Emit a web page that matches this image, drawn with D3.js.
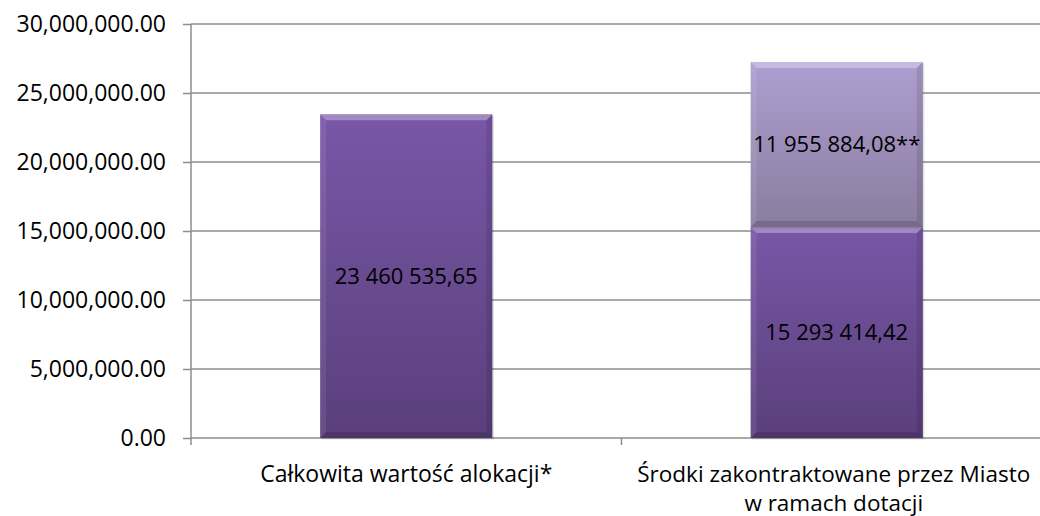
<!DOCTYPE html>
<html>
<head>
<meta charset="utf-8">
<script src="https://cdn.jsdelivr.net/npm/d3@7"></script>
<style>
    body { margin: 0; background: #fff; }
    svg { display: block; }
    svg text { font-family: "Open Sans", sans-serif; }
    .grid line { stroke: #8c8c8c; stroke-width: 1.5; }
    .axis path, .axis line { stroke: #8c8c8c; stroke-width: 1.5; }
    .axis text { fill: #000; }
</style>
</head>
<body>
<div id="chart"></div>
<script>
// data
const categories = ["Całkowita wartość alokacji*", "Środki zakontraktowane przez Miasto\nw ramach dotacji"];
const baseValues = [23460535.65, 15293414.42];
const extraValues = [0, 11955884.08];
const extraSuffix = "**";
const yTicks = [0, 5000000, 10000000, 15000000, 20000000, 25000000, 30000000];

const width = 1040, height = 516;
const margin = { top: 24, right: -12, bottom: 78, left: 191 };

const svg = d3.select("#chart").append("svg")
    .attr("width", width)
    .attr("height", height);

const x = d3.scaleBand()
    .domain(categories)
    .range([margin.left, width - margin.right])
    .paddingInner(0.6)
    .paddingOuter(0.3);

const y = d3.scaleLinear()
    .domain([0, 30000000])
    .range([height - margin.bottom, margin.top]);

const plFormat = v => d3.format(",.2f")(v).replace(/,/g, " ").replace(".", ",");

// gradients
const defs = svg.append("defs");
function grad(id, top, bottom) {
    let g = defs.append("linearGradient").attr("id", id)
        .attr("x1", 0).attr("y1", 0).attr("x2", 0).attr("y2", 1);
    g.append("stop").attr("offset", "0%").attr("stop-color", top);
    g.append("stop").attr("offset", "100%").attr("stop-color", bottom);
}
grad("g-base", "#7857a7", "#5a3f7b");
grad("g-extra", "#ae9ed1", "#8a7d9f");

// gridlines
svg.append("g").attr("class", "grid")
    .selectAll("line")
    .data(yTicks.slice(1))
    .enter().append("line")
    .attr("x1", margin.left)
    .attr("x2", width - margin.right)
    .attr("y1", d => y(d))
    .attr("y2", d => y(d));

// y axis
const yAxis = d3.axisLeft(y)
    .tickValues(yTicks)
    .tickSize(8)
    .tickPadding(17)
    .tickFormat(d3.format(",.2f"));

svg.append("g")
    .attr("class", "axis y-axis")
    .attr("transform", `translate(${margin.left},0)`)
    .call(yAxis)
    .attr("font-family", null)
    .attr("font-size", null)
    .call(g => g.select(".domain").attr("d", `M0,${y(0)}V${y(30000000)}`))
    .selectAll("text")
    .style("font-size", "23px");

// x axis (ticks between categories, Excel style)
const xAx = svg.append("g").attr("class", "axis x-axis");
xAx.append("line")
    .attr("x1", margin.left).attr("x2", width - margin.right)
    .attr("y1", y(0)).attr("y2", y(0));
const bounds = d3.range(categories.length + 1).map(i => margin.left + i * x.step());
xAx.selectAll(".tick")
    .data(bounds)
    .enter().append("line")
    .attr("x1", d => d).attr("x2", d => d)
    .attr("y1", y(0)).attr("y2", y(0) + 7);

xAx.selectAll(".cat")
    .data(categories)
    .enter().append("text")
    .attr("class", "cat")
    .attr("text-anchor", "middle")
    .style("font-size", (d, i) => i == 1 ? "22.5px" : "23px")
    .attr("fill", "#000")
    .each(function(d) {
        let lines = d.split("\n");
        lines.forEach((l, i) => {
            d3.select(this).append("tspan")
                .attr("x", x(d) + x.bandwidth() / 2 - (lines.length > 1 ? 3 : 0))
                .attr("y", 481.5 + i * 29)
                .text(l);
        });
    });

// segments
let segs = [];
categories.forEach((c, i) => {
    segs.push({ cat: c, y0: 0, y1: baseValues[i], fill: "url(#g-base)", label: plFormat(baseValues[i]) });
    if (extraValues[i] > 0) {
        segs.push({ cat: c, y0: baseValues[i], y1: baseValues[i] + extraValues[i], fill: "url(#g-extra)", label: plFormat(extraValues[i]) + extraSuffix });
    }
});

const bw = x.bandwidth();
const bev = 6;

const bars = svg.append("g").attr("class", "bars")
    .selectAll(".seg")
    .data(segs)
    .enter().append("g")
    .attr("class", "seg")
    .attr("transform", d => `translate(${x(d.cat)},${y(d.y1)})`);

bars.append("rect")
    .attr("x", 1.5).attr("y", 1.5)
    .attr("width", bw).attr("height", d => y(d.y0) - y(d.y1))
    .attr("fill", "#000").attr("opacity", 0.12);

bars.append("rect")
    .attr("width", bw).attr("height", d => y(d.y0) - y(d.y1))
    .attr("fill", d => d.fill);

// bevel edges
bars.append("path")
    .attr("d", `M0,0H${bw}L${bw - bev},${bev}H${bev}Z`)
    .attr("fill", "#fff").attr("opacity", 0.3);
bars.append("path")
    .attr("d", d => { let h = y(d.y0) - y(d.y1); return `M0,0L${bev},${bev}V${h - bev}L0,${h}Z`; })
    .attr("fill", "#fff").attr("opacity", 0.08);
bars.append("path")
    .attr("d", d => { let h = y(d.y0) - y(d.y1); return `M${bw},0L${bw - bev},${bev}V${h - bev}L${bw},${h}Z`; })
    .attr("fill", "#000").attr("opacity", 0.1);
bars.append("path")
    .attr("d", d => { let h = y(d.y0) - y(d.y1); return `M0,${h}L${bev},${h - bev}H${bw - bev}L${bw},${h}Z`; })
    .attr("fill", "#000").attr("opacity", 0.15);

bars.append("text")
    .attr("x", bw / 2)
    .attr("y", d => (y(d.y0) - y(d.y1)) / 2)
    .attr("dy", "0.35em")
    .attr("text-anchor", "middle")
    .style("font-size", "22px")
    .attr("fill", "#000")
    .text(d => d.label);
</script>
</body>
</html>
